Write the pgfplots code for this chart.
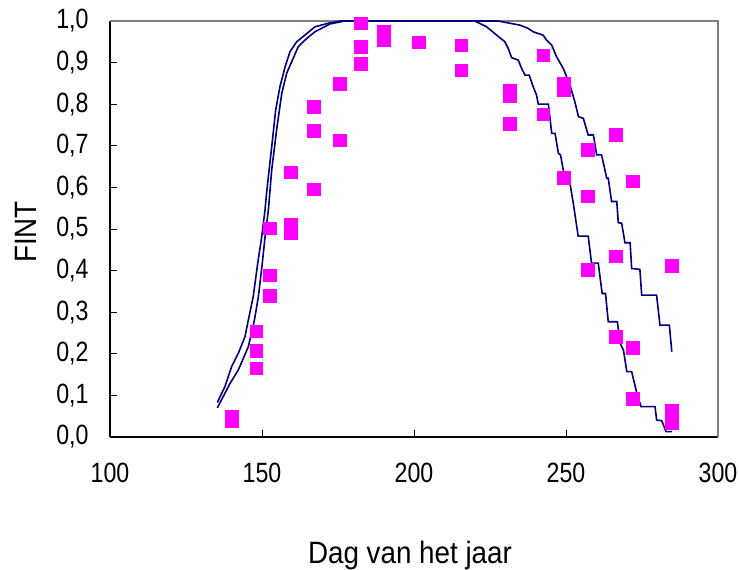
\documentclass[border=0pt]{standalone}
\usepackage{pgfplots}
\pgfplotsset{compat=1.18}
\usepackage{fontspec}
\setmainfont{Liberation Sans}[FakeStretch=0.9]
\newfontfamily\tickfont{Liberation Sans}[FakeStretch=0.83]
\definecolor{navyline}{HTML}{000080}
\definecolor{magpt}{HTML}{FF00FF}
\begin{document}
\begin{tikzpicture}
\path[use as bounding box] (-110bp,-133bp) rectangle (629bp,437bp);
\begin{axis}[
  scale only axis,
  width=608bp, height=416bp,
  xmin=100, xmax=300, ymin=0, ymax=1,
  axis lines*=left,
  axis line style={black, line width=1.2bp},
  clip=false,
  xtick={100,150,200,250,300},
  ytick={0,0.1,...,1.01},
  tick align=inside,
  major tick length=7bp,
  tick style={black, line width=0.8bp},
  /pgf/number format/assume math mode=true,
  yticklabel style={/pgf/number format/use comma, /pgf/number format/fixed, /pgf/number format/fixed zerofill, /pgf/number format/precision=1},
  xticklabel style={/pgf/number format/fixed, /pgf/number format/precision=0},
  tick label style={font=\tickfont\fontsize{28}{32}\selectfont},
  xticklabel style={anchor=center, yshift=-36bp},
  yticklabel style={anchor=east, xshift=-18bp},
  xlabel={Dag van het jaar},
  ylabel={FINT},
  every axis x label/.style={at={(axis description cs:0.4934,0)}, anchor=center, yshift=-119bp, font=\fontsize{31}{36}\selectfont},
  every axis y label/.style={at={(axis description cs:0,0.493)}, rotate=90, anchor=center, yshift=84bp, font=\fontsize{31}{36}\selectfont},
]
\draw[gray, line width=1.2bp] (rel axis cs:0,1) -- (rel axis cs:1,1) -- (rel axis cs:1,0);

\addplot[navyline, line width=1.6bp, mark=none] coordinates {
(135.3,0.083) (137.8,0.121) (140.0,0.169) (142.2,0.201) (144.4,0.241) (145.5,0.281) (147.1,0.337) (148.6,0.418) (149.9,0.481) (151.0,0.546) (151.5,0.586) (153.2,0.698) (154.5,0.786) (155.9,0.842) (157.6,0.890) (159.2,0.926) (161.4,0.950) (164.1,0.966) (167.4,0.986) (172,0.995) (176,1.0) (227.6,1.0) (234.9,0.990) (237.6,0.982) (239.2,0.974) (242.5,0.966) (243.6,0.954) (245.3,0.942) (246.9,0.914) (249.1,0.886) (251.3,0.846) (252.9,0.806) (254.1,0.770) (255.7,0.766) (257.3,0.726) (259.0,0.726) (260.1,0.678) (261.7,0.678) (263.4,0.622) (263.9,0.622) (265.0,0.566) (266.7,0.566) (267.2,0.515) (268.3,0.514) (269.4,0.467) (271.1,0.467) (271.6,0.405) (274.3,0.403) (274.9,0.341) (279.8,0.341) (280.9,0.269) (284.0,0.269) (284.8,0.205)
};
\addplot[navyline, line width=1.6bp, mark=none] coordinates {
(135.3,0.070) (139.5,0.129) (142.2,0.161) (145.5,0.217) (147.5,0.281) (148.8,0.337) (150.1,0.418) (151.0,0.481) (152.1,0.546) (153.2,0.642) (154.8,0.738) (156.5,0.826) (158.1,0.874) (160.0,0.906) (161.9,0.938) (164.7,0.958) (167.4,0.974) (172.4,0.993) (177.3,1.0) (220,1.0) (223.9,0.986) (227.2,0.966) (229.9,0.950) (231.0,0.934) (232.1,0.912) (234.3,0.906) (235.4,0.886) (236.5,0.870) (237.9,0.870) (239.2,0.842) (240.3,0.822) (240.9,0.8) (244.2,0.8) (245.3,0.730) (246.4,0.730) (247.5,0.682) (248.2,0.678) (249.7,0.618) (251.3,0.610) (252.4,0.562) (254.0,0.483) (257.3,0.483) (258.4,0.418) (260.6,0.418) (261.9,0.345) (263.0,0.345) (263.9,0.277) (266.9,0.277) (267.8,0.225) (268.9,0.209) (270.0,0.157) (271.6,0.157) (273.3,0.105) (274.7,0.073) (279.3,0.073) (279.8,0.041) (281.5,0.039) (282.9,0.013) (284.8,0.013)
};
\addplot[only marks, mark=square*, mark size=6.3bp, mark options={fill=magpt, draw=magpt, line width=0.2bp}] coordinates {
(140,0.04) (140,0.05)
(148,0.255) (148,0.207) (148,0.166)
(152.5,0.502) (152.5,0.389) (152.5,0.340)
(159.5,0.637) (159.5,0.49) (159.5,0.51)
(167,0.794) (167,0.736) (167,0.596)
(175.5,0.850) (175.5,0.714)
(182.5,0.995) (182.5,0.938) (182.5,0.898)
(190,0.975) (190,0.955)
(201.5,0.949)
(215.5,0.942) (215.5,0.882)
(231.5,0.832) (231.5,0.82) (231.5,0.754)
(242.5,0.918) (242.5,0.776)
(249.2,0.851) (249.2,0.834) (249.2,0.623)
(257.2,0.691) (257.2,0.579) (257.2,0.403)
(266.3,0.727) (266.3,0.435) (266.3,0.242)
(272,0.615) (272,0.215) (272,0.093)
(284.7,0.412) (284.7,0.063) (284.7,0.034)
};
\end{axis}
\end{tikzpicture}
\end{document}
